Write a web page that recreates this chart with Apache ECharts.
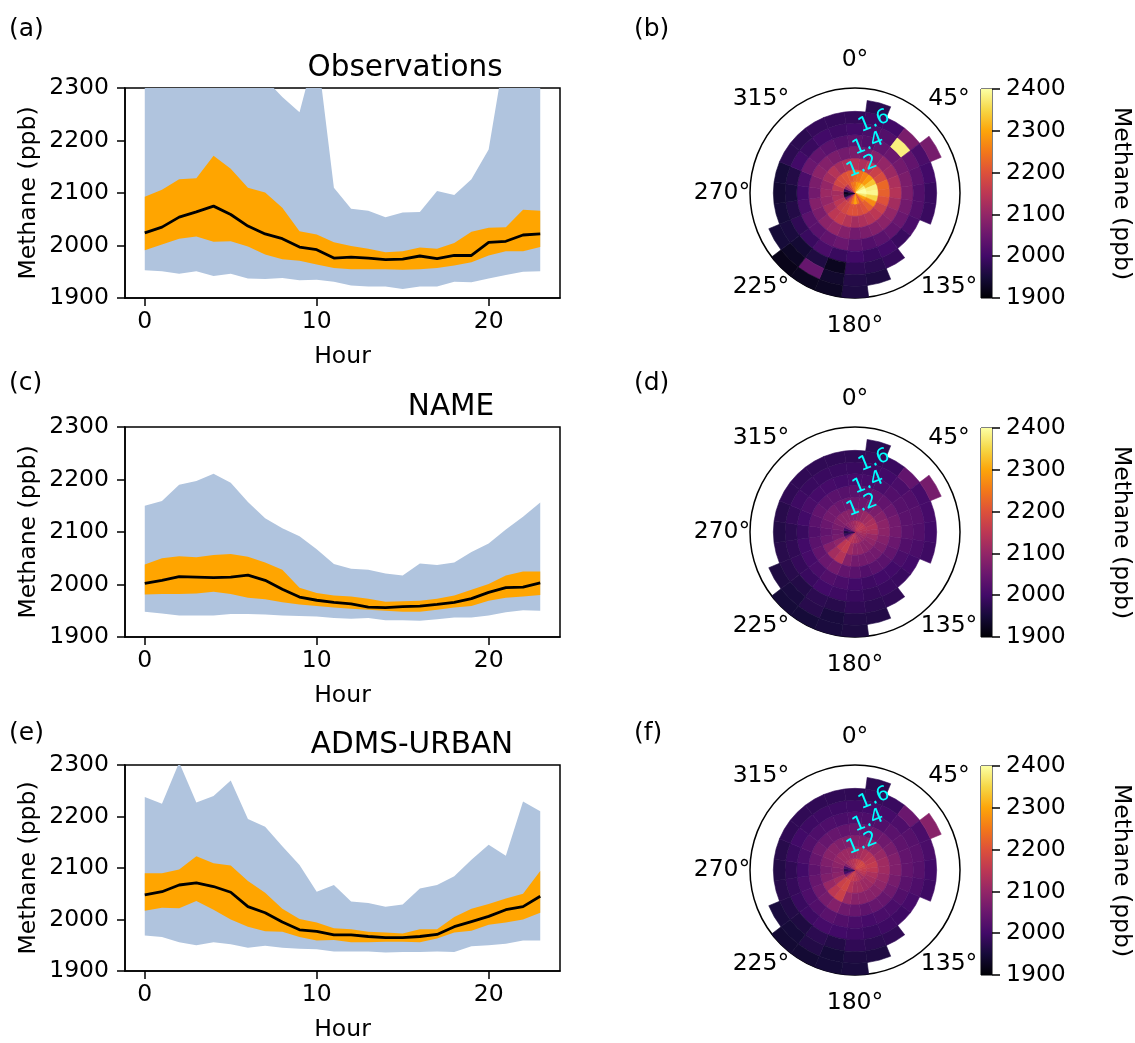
<!DOCTYPE html>
<html>
<head>
<meta charset="UTF-8">
<title>Methane diurnal cycle and wind roses</title>
<script src="https://cdn.jsdelivr.net/npm/echarts@6/dist/echarts.min.js"></script>
<style>body{margin:0;background:#fff;}</style>
</head>
<body>
<div id="main" style="width:1135px;height:1043px;"></div>
<script>
// ---- data ----
var hours = [0,1,2,3,4,5,6,7,8,9,10,11,12,13,14,15,16,17,18,19,20,21,22,23];
var hourTicks = [0, 10, 20];

// (a) observations: min, lower quartile, median, upper quartile, max
var obsLow  = [1953,1951,1946,1951,1942,1946,1937,1936,1938,1934,1935,1931,1924,1922,1922,1917,1922,1922,1931,1930,1937,1944,1950,1951];
var obsQ1   = [1991,2002,2013,2017,2007,2008,1998,1983,1974,1971,1964,1957,1955,1955,1955,1954,1955,1957,1962,1968,1981,1989,1989,1997];
var obsMed  = [2024,2035,2054,2064,2075,2059,2037,2022,2013,1997,1992,1976,1978,1976,1973,1974,1980,1975,1981,1981,2006,2008,2020,2022];
var obsQ3   = [2093,2106,2126,2128,2171,2146,2110,2101,2072,2027,2021,2006,1999,1994,1987,1989,1996,1994,2005,2026,2034,2035,2068,2066];
var obsHigh = [2420,2420,2420,2420,2420,2420,2420,2317,2283,2254,2378,2110,2070,2066,2054,2063,2064,2104,2096,2126,2183,2378,2420,2420];

// (c) NAME
var nameLow  = [1948,1945,1941,1941,1941,1944,1944,1943,1941,1940,1939,1936,1935,1936,1932,1932,1931,1934,1937,1937,1941,1947,1951,1950];
var nameQ1   = [1981,1982,1982,1983,1986,1982,1975,1972,1966,1962,1959,1956,1954,1952,1950,1948,1948,1952,1956,1959,1969,1975,1977,1980];
var nameMed  = [2002,2008,2015,2014,2013,2014,2018,2008,1991,1976,1970,1966,1963,1957,1956,1958,1959,1962,1966,1973,1985,1994,1995,2003];
var nameQ3   = [2038,2050,2054,2052,2056,2058,2053,2042,2028,1994,1984,1979,1977,1973,1967,1968,1969,1973,1979,1990,2001,2017,2025,2025];
var nameHigh = [2150,2159,2190,2197,2211,2194,2157,2126,2107,2092,2067,2039,2030,2028,2021,2017,2040,2037,2042,2062,2078,2105,2129,2156];

// (e) ADMS-URBAN
var admsLow  = [1969,1966,1956,1950,1956,1952,1945,1949,1945,1943,1942,1938,1938,1938,1936,1937,1937,1938,1937,1948,1950,1953,1959,1959];
var admsQ1   = [2017,2023,2022,2036,2019,2000,1986,1977,1976,1966,1959,1960,1956,1956,1957,1957,1956,1963,1975,1978,1990,1994,2000,2013];
var admsMed  = [2048,2054,2067,2071,2064,2053,2025,2013,1995,1980,1977,1970,1970,1967,1965,1965,1967,1971,1986,1996,2006,2019,2025,2045];
var admsQ3   = [2090,2090,2097,2123,2109,2105,2075,2052,2021,2001,1994,1983,1981,1976,1975,1973,1981,1981,2005,2021,2030,2041,2050,2094];
var admsHigh = [2238,2225,2305,2227,2240,2270,2195,2180,2142,2106,2054,2067,2035,2032,2025,2029,2060,2067,2084,2116,2145,2124,2229,2210];

// wind roses: wind direction sectors (deg), speed rings 0-1, 1-2, ... m/s
var sectorAngles = [0,15,30,45,60,75,90,105,120,135,150,165,180,195,210,225,240,255,270,285,300,315,330,345];
var angleLabels = ['0°','45°','135°','180°','225°','270°','315°'];
var angleLabelSector = [0,3,9,12,15,18,21];
var speedLabels = ['1.2','1.4','1.6'];
var speedLabelRing = [2.3,4.3,6.3];
var ringMax = 9;

// (b) observations, rows = speed rings, columns = sectors
var obsRose = [
  [2250,2280,2300,2340,2380,2400,2400,2370,2300,2250,2200,2250,2300,2250,2200,2150,2050,1950,1920,1980,2100,2150,2200,2240],
  [2230,2240,2260,2290,2330,2380,2390,2350,2270,2220,2200,2190,2200,2200,2180,2170,2150,2130,2120,2150,2180,2190,2200,2210],
  [2140,2130,2150,2170,2190,2230,2220,2200,2170,2150,2140,2130,2120,2140,2160,2150,2120,2100,2110,2100,2120,2140,2120,2130],
  [2070,2060,2080,2100,2110,2130,2140,2120,2100,2090,2080,2070,2060,2080,2100,2090,2070,2080,2060,2070,2090,2080,2070,2060],
  [2030,2020,2040,2050,2060,2070,2070,2060,2050,2040,2030,2020,2030,2050,2040,2030,2030,2010,2000,2010,2050,2040,2030,2020],
  [2000,2010,2020,2380,2040,2030,2020,2020,2010,1990,2000,1990,2000,1990,2010,1990,1980,1965,1955,1965,2000,1990,2000,1995],
  [1985,1995,2000,2070,2010,2000,1990,1990,null,null,1985,1975,1980,1925,1960,1945,1955,1950,1945,1950,1975,1975,1985,1985],
  [null,1975,null,null,2065,null,null,null,null,null,null,1960,1965,1940,2045,1930,1950,null,null,null,null,null,null,null],
  [null,null,null,null,null,null,null,null,null,null,null,null,1960,1930,1925,1920,null,null,null,null,null,null,null,null]
];
// (d) NAME
var nameRose = [
  [2120,2130,2140,2150,2150,2140,2130,2120,2110,2100,2110,2120,2130,2140,2150,2120,2060,1990,1960,2000,2060,2090,2100,2110],
  [2085,2095,2105,2115,2125,2135,2125,2105,2095,2085,2085,2095,2095,2115,2160,2150,2095,2065,2055,2065,2075,2085,2085,2085],
  [2050,2050,2060,2070,2080,2090,2090,2080,2070,2060,2060,2060,2060,2080,2140,2120,2080,2050,2040,2050,2060,2060,2050,2050],
  [2030,2030,2035,2040,2050,2060,2060,2050,2040,2030,2030,2020,2030,2040,2060,2050,2040,2030,2020,2030,2040,2030,2030,2025],
  [2005,2005,2010,2020,2025,2030,2030,2020,2010,2000,2000,1995,2000,2010,2020,2010,2005,2000,1990,2000,2010,2005,2005,2000],
  [1990,1995,2000,2010,2020,2025,2020,2010,2000,1990,1990,1985,1990,1995,2000,1990,1985,1980,1975,1985,1995,1990,1990,1990],
  [1980,1985,1990,2040,2005,2005,2000,1995,null,null,1980,1975,1980,1970,1975,1965,1970,1970,1965,1970,1980,1980,1980,1980],
  [null,1975,null,null,2065,null,null,null,null,null,null,1965,1965,1955,1970,1955,1960,null,null,null,null,null,null,null],
  [null,null,null,null,null,null,null,null,null,null,null,null,1960,1955,1950,1950,null,null,null,null,null,null,null,null]
];
// (f) ADMS-URBAN
var admsRose = [
  [2150,2160,2170,2180,2180,2170,2160,2150,2140,2120,2130,2140,2150,2160,2170,2150,2080,2000,1970,2010,2080,2120,2130,2140],
  [2110,2120,2130,2140,2150,2160,2150,2130,2120,2110,2110,2120,2120,2140,2180,2170,2120,2090,2080,2090,2100,2110,2110,2110],
  [2075,2075,2085,2095,2105,2115,2115,2105,2095,2085,2085,2085,2085,2105,2170,2150,2105,2075,2065,2075,2085,2085,2075,2075],
  [2045,2045,2050,2055,2065,2075,2075,2065,2055,2045,2045,2035,2045,2055,2080,2065,2055,2045,2035,2045,2055,2045,2045,2040],
  [2015,2015,2020,2030,2035,2040,2040,2030,2020,2010,2010,2005,2010,2020,2030,2020,2015,2010,2000,2010,2020,2015,2015,2010],
  [1995,2000,2005,2015,2025,2030,2025,2015,2005,1995,1995,1990,1995,2000,2005,1995,1990,1985,1980,1990,2000,1995,1995,1995],
  [1980,1985,1990,2050,2010,2010,2000,1995,null,null,1980,1975,1980,1965,1975,1960,1965,1970,1965,1970,1980,1980,1980,1980],
  [null,1975,null,null,2085,null,null,null,null,null,null,1960,1960,1950,1965,1950,1955,null,null,null,null,null,null,null],
  [null,null,null,null,null,null,null,null,null,null,null,null,1955,1950,1945,1945,null,null,null,null,null,null,null,null]
];

var lineMin = 1900, lineMax = 2300;
var cbMin = 1900, cbMax = 2400;

// inferno colour map
var inferno = ['#000004','#160b39','#420a68','#6a176e','#932667','#bc3754','#dd513a','#f37819','#fca50a','#f6d746','#fcffa4'];

// ---- layout ----
var FONT = 'DejaVu Sans';
var TICK = 23.5;
var rowTop = [88, 427, 765];
var panels = [
  {title: 'Observations', titleX: 405, low: obsLow, q1: obsQ1, med: obsMed, q3: obsQ3, high: obsHigh, rose: obsRose, letters: ['(a)', '(b)'], letterY: 29},
  {title: 'NAME', titleX: 451, low: nameLow, q1: nameQ1, med: nameMed, q3: nameQ3, high: nameHigh, rose: nameRose, letters: ['(c)', '(d)'], letterY: 383},
  {title: 'ADMS-URBAN', titleX: 412, low: admsLow, q1: admsQ1, med: admsMed, q3: admsQ3, high: admsHigh, rose: admsRose, letters: ['(e)', '(f)'], letterY: 733}
];

function pairs(vals) {
  return hours.map(function (h, i) { return [h, vals[i]]; });
}
function plain(v) { return String(v); }
function cmap(v) { return echarts.color.lerp((v - cbMin) / (cbMax - cbMin), inferno); }

// filled band between two curves
function band(i, lower, upper, fill) {
  return {
    type: 'custom', xAxisIndex: i, yAxisIndex: i, clip: true, silent: true,
    encode: {x: 0, y: [1, 2]},
    data: hours.map(function (h, j) { return [h, lower[j], upper[j]]; }),
    renderItem: function (params, api) {
      if (params.dataIndex !== 0) return;
      var n = params.dataInsideLength, top = [], bot = [];
      for (var j = 0; j < n; j++) {
        top.push(api.coord([api.value(0, j), api.value(2, j)]));
        bot.push(api.coord([api.value(0, j), api.value(1, j)]));
      }
      return {type: 'polygon', shape: {points: top.concat(bot.reverse())}, style: {fill: fill}};
    }
  };
}

var txt = {fontFamily: FONT, fontSize: TICK, color: '#000'};
var blackLine = {color: '#000', width: 1.5};

var grid = [], xAxis = [], yAxis = [], series = [], polar = [], angleAxis = [], radiusAxis = [], graphic = [];

panels.forEach(function (p, i) {
  var top = rowTop[i];

  // line panel
  grid.push({left: 125, top: top, width: 435, height: 210, show: true, borderColor: '#000', borderWidth: 1.5});
  xAxis.push({
    gridIndex: i, type: 'value', min: -1.15, max: 24.15,
    name: 'Hour', nameLocation: 'middle', nameGap: 47, nameTextStyle: txt,
    axisLine: {show: true, onZero: false, lineStyle: blackLine},
    axisTick: {show: true, length: 8, customValues: hourTicks, lineStyle: blackLine},
    axisLabel: {customValues: hourTicks, margin: 12, formatter: plain, fontFamily: FONT, fontSize: TICK, color: '#000'},
    splitLine: {show: false}
  });
  yAxis.push({
    gridIndex: i, type: 'value', min: lineMin, max: lineMax, interval: 100,
    name: 'Methane (ppb)', nameLocation: 'middle', nameRotate: 90, nameGap: 84, nameTextStyle: txt,
    axisLine: {show: true, onZero: false, lineStyle: blackLine},
    axisTick: {show: true, length: 8, lineStyle: blackLine},
    axisLabel: {margin: 16, formatter: plain, fontFamily: FONT, fontSize: TICK, color: '#000'},
    splitLine: {show: false}
  });

  // outer band (blue), inner band (orange), median
  series.push(band(i, p.low, p.high, '#b0c4de'));
  series.push(band(i, p.q1, p.q3, '#ffa500'));
  series.push({type: 'line', xAxisIndex: i, yAxisIndex: i, data: pairs(p.med),
    symbol: 'none', silent: true, lineStyle: {color: '#000', width: 2.8}, z: 4});

  // wind rose
  polar.push({center: [855, top + 105], radius: 105});
  angleAxis.push({
    polarIndex: i, type: 'category', data: sectorAngles.map(String), startAngle: 97.5, clockwise: true,
    axisLine: {show: true, lineStyle: blackLine}, axisTick: {show: false}, axisLabel: {show: false},
    splitLine: {show: false}, splitArea: {show: false}
  });
  radiusAxis.push({polarIndex: i, type: 'value', min: 0, max: ringMax, show: false});

  p.rose.forEach(function (ring) {
    series.push({
      type: 'bar', coordinateSystem: 'polar', polarIndex: i, stack: 'rose' + i,
      barCategoryGap: '0%', silent: true,
      data: ring.map(function (v) {
        if (v == null) return '-';
        var c = cmap(v);
        return {value: 1, itemStyle: {color: c, borderColor: c, borderWidth: 0.6}};
      })
    });
  });

  series.push({
    type: 'scatter', coordinateSystem: 'polar', polarIndex: i, symbolSize: 1, clip: false, silent: true, z: 6,
    itemStyle: {color: 'rgba(0,0,0,0)'},
    label: {show: true, position: 'top', distance: 0, verticalAlign: 'middle', align: 'center',
      formatter: '{b}', fontFamily: FONT, fontSize: TICK, color: '#000', opacity: 1, textBorderWidth: 0},
    data: angleLabels.map(function (t, j) { return {name: t, value: [ringMax * 133 / 105, angleLabelSector[j]]}; })
  });
  series.push({
    type: 'scatter', coordinateSystem: 'polar', polarIndex: i, symbolSize: 1, clip: false, silent: true, z: 7,
    itemStyle: {color: 'rgba(0,0,0,0)'},
    label: {show: true, position: 'top', distance: 0, verticalAlign: 'middle', align: 'center', rotate: 22,
      formatter: '{b}', fontFamily: FONT, fontSize: 20, color: '#00ffff', opacity: 1, textBorderWidth: 0},
    data: speedLabels.map(function (t, j) { return {name: t, value: [speedLabelRing[j], 1]}; })
  });

  // letters and titles
  graphic.push({type: 'text', x: 9, y: p.letterY, style: {text: p.letters[0], fontFamily: FONT, fontSize: 25, fill: '#000', textVerticalAlign: 'middle'}});
  graphic.push({type: 'text', x: 634, y: p.letterY, style: {text: p.letters[1], fontFamily: FONT, fontSize: 25, fill: '#000', textVerticalAlign: 'middle'}});
  graphic.push({type: 'text', x: p.titleX, y: top - 20, style: {text: p.title, fontFamily: FONT, fontSize: 29.5, fill: '#000',
    textAlign: 'center', textVerticalAlign: 'middle'}});
});

// colour bars
panels.forEach(function (p, i) {
  var g = grid.length;
  grid.push({left: 981, top: rowTop[i] + 1, width: 11, height: 209, show: true, borderColor: '#000', borderWidth: 1});
  xAxis.push({gridIndex: g, type: 'category', data: ['cb'], show: false});
  yAxis.push({
    gridIndex: g, type: 'value', min: cbMin, max: cbMax, interval: 100, position: 'right',
    name: 'Methane (ppb)', nameLocation: 'middle', nameRotate: -90, nameGap: 117, nameTextStyle: txt,
    axisLine: {show: false}, axisTick: {show: true, length: 8, lineStyle: blackLine},
    axisLabel: {margin: 14, formatter: plain, fontFamily: FONT, fontSize: TICK, color: '#000'},
    splitLine: {show: false}
  });
  series.push({type: 'bar', xAxisIndex: g, yAxisIndex: g, stack: 'cb' + i, barWidth: '100%', silent: true,
    data: [cbMin], itemStyle: {color: 'rgba(0,0,0,0)'}});
  series.push({type: 'bar', xAxisIndex: g, yAxisIndex: g, stack: 'cb' + i, barWidth: '100%', silent: true,
    data: [cbMax - cbMin],
    itemStyle: {color: {type: 'linear', x: 0, y: 0, x2: 0, y2: 1,
      colorStops: inferno.slice().reverse().map(function (c, j) { return {offset: j / (inferno.length - 1), color: c}; })}}});
});

var chart = echarts.init(document.getElementById('main'), null, {renderer: 'canvas'});
chart.setOption({
  animation: false,
  backgroundColor: '#fff',
  grid: grid, xAxis: xAxis, yAxis: yAxis,
  polar: polar, angleAxis: angleAxis, radiusAxis: radiusAxis,
  graphic: graphic,
  series: series
});
</script>
</body>
</html>
